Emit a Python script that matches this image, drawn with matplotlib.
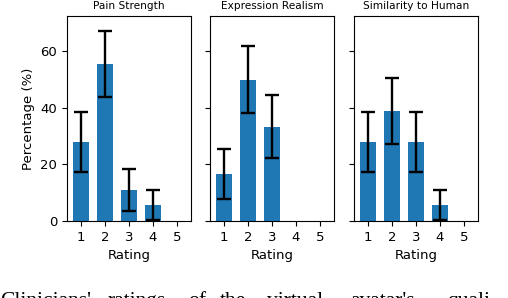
import matplotlib.pyplot as plt

# Ratings 1-5, percentage of clinicians per rating
ratings = [1, 2, 3, 4, 5]
titles = ["Pain Strength", "Expression Realism", "Similarity to Human"]

pain_pct = [27.8, 55.6, 11.1, 5.6, 0.0]
pain_err = [10.6, 11.7, 7.4, 5.4, 0.0]

expr_pct = [16.7, 50.0, 33.3, 0.0, 0.0]
expr_err = [8.8, 11.8, 11.1, 0.0, 0.0]

sim_pct = [27.8, 38.9, 27.8, 5.6, 0.0]
sim_err = [10.6, 11.5, 10.6, 5.4, 0.0]

series = [(pain_pct, pain_err), (expr_pct, expr_err), (sim_pct, sim_err)]

fig = plt.figure(figsize=(5.08, 2.98), dpi=100)
lefts = [67, 210, 354]
axes = []
for i, left in enumerate(lefts):
    ax = fig.add_axes([left / 508, 1 - 221 / 298, 124 / 508, 205 / 298],
                      sharey=axes[0] if axes else None)
    axes.append(ax)

for i, (ax, (pct, err)) in enumerate(zip(axes, series)):
    # only draw error bars where there is a bar
    ax.bar(ratings, pct, width=0.7, color="#1f77b4")
    xs = [r for r, p in zip(ratings, pct) if p > 0]
    ys = [p for p in pct if p > 0]
    es = [e for p, e in zip(pct, err) if p > 0]
    ax.errorbar(xs, ys, yerr=es, fmt="none", ecolor="black",
                elinewidth=1.7, capsize=5, capthick=1.7)
    ax.set_title(titles[i], fontsize=7.6, pad=5)
    ax.set_xlabel("Rating", fontsize=9.5)
    ax.set_xticks(ratings)
    ax.set_xlim(0.415, 5.585)
    ax.tick_params(labelsize=9.5)
    if i == 0:
        ax.set_ylabel("Percentage (%)", fontsize=9.5)
        ax.set_yticks([0, 20, 40, 60])
    else:
        ax.tick_params(labelleft=False)

axes[0].set_ylim(0, 72.5)

# caption of the paper, cut off at the bottom of the crop
words = ["Clinicians'", "ratings", "of", "the", "virtual", "avatar's", "quali"]
word_x = [0, 108, 188, 220, 267, 350, 447]
for w, x in zip(words, word_x):
    fig.text(x / 508, -0.026, w, fontsize=15.5, family="Liberation Serif",
             va="baseline", ha="left")

fig.savefig("out.png", dpi=100)
